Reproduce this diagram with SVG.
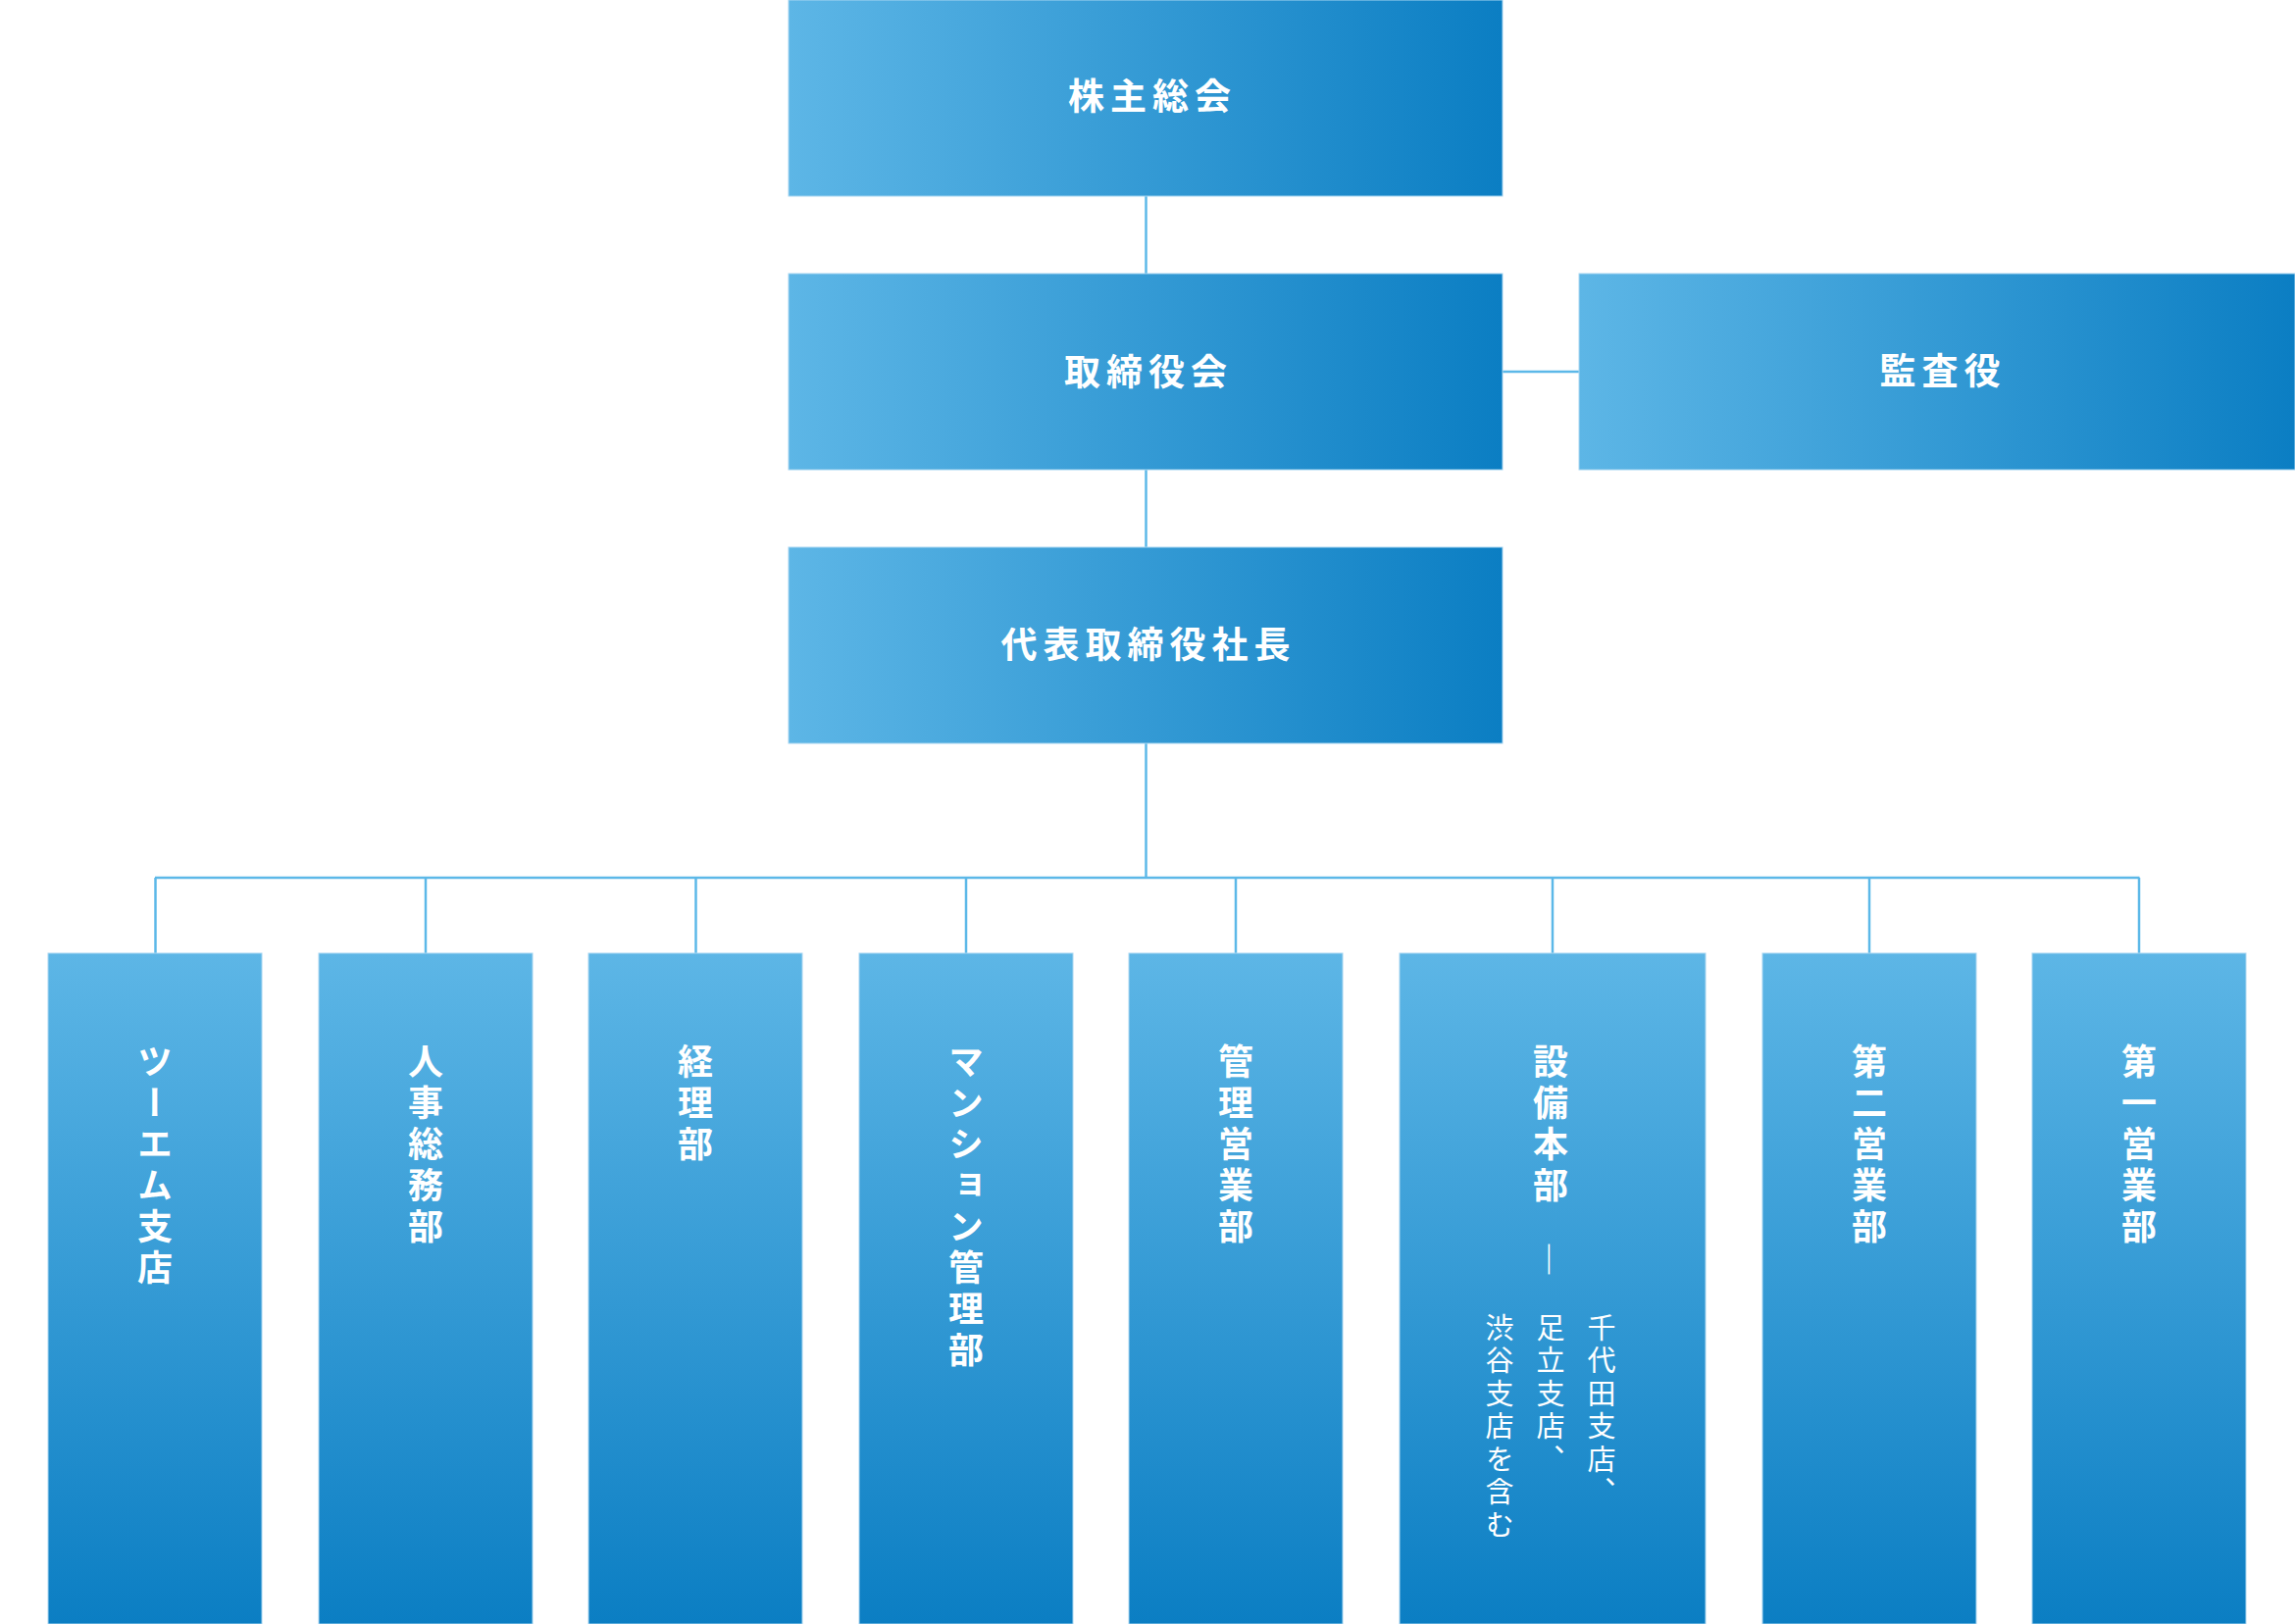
<svg xmlns="http://www.w3.org/2000/svg" width="2340" height="1656" viewBox="0 0 2340 1656">
<defs>
<linearGradient id="gh" x1="0" y1="0" x2="1" y2="0">
<stop offset="0" stop-color="#5db6e6"/>
<stop offset="1" stop-color="#0b7ec3"/>
</linearGradient>
<linearGradient id="gv" x1="0" y1="0" x2="0" y2="1">
<stop offset="0" stop-color="#5db6e6"/>
<stop offset="1" stop-color="#0b7ec3"/>
</linearGradient>
<style>
.bh{fill:url(#gh);stroke:#a8d6f1;stroke-width:1}
.bv{fill:url(#gv);stroke:#a8d6f1;stroke-width:1}
.th{font-family:"Noto Sans CJK JP","Noto Sans CJK SC",sans-serif;font-weight:700;font-size:37px;fill:#fff;letter-spacing:6px;text-anchor:middle;dominant-baseline:central}
.tv{font-family:"Noto Sans CJK JP","Noto Sans CJK SC",sans-serif;font-weight:700;font-size:36px;fill:#fff;letter-spacing:6px;writing-mode:vertical-rl;text-anchor:start}
.ts{font-family:"Noto Sans CJK JP","Noto Sans CJK SC",sans-serif;font-weight:400;font-size:29px;fill:#fff;letter-spacing:4.5px;writing-mode:vertical-rl;text-anchor:start}
.dash{font-family:"Noto Sans CJK JP","Noto Sans CJK SC",sans-serif;font-weight:400;font-size:36px;fill:#fff;writing-mode:vertical-rl;text-anchor:start}
.ln{stroke:#5cb8e8;stroke-width:2.5;fill:none}
</style>
</defs>
<g id="connectors">
<line class="ln" x1="1168.5" y1="200" x2="1168.5" y2="279"/>
<line class="ln" x1="1532" y1="379" x2="1610" y2="379"/>
<line class="ln" x1="1168.5" y1="479" x2="1168.5" y2="558"/>
<line class="ln" x1="1168.5" y1="758" x2="1168.5" y2="895"/>
<line class="ln" x1="158" y1="895" x2="2181.5" y2="895"/>
<line class="ln" x1="158.5" y1="895" x2="158.5" y2="972"/>
<line class="ln" x1="434" y1="895" x2="434" y2="972"/>
<line class="ln" x1="709.5" y1="895" x2="709.5" y2="972"/>
<line class="ln" x1="985" y1="895" x2="985" y2="972"/>
<line class="ln" x1="1260" y1="895" x2="1260" y2="972"/>
<line class="ln" x1="1583" y1="895" x2="1583" y2="972"/>
<line class="ln" x1="1906" y1="895" x2="1906" y2="972"/>
<line class="ln" x1="2181" y1="895" x2="2181" y2="972"/>
</g>
<g id="n-kabunushi"><rect class="bh" x="804" y="0" width="728" height="200"/><text class="th" x="1175" y="96">株主総会</text></g>
<g id="n-torishimariyaku"><rect class="bh" x="804" y="279" width="728" height="200"/><text class="th" x="1171" y="377">取締役会</text></g>
<g id="n-kansayaku"><rect class="bh" x="1610" y="279" width="730" height="200"/><text class="th" x="1981" y="376">監査役</text></g>
<g id="n-shacho"><rect class="bh" x="804" y="558" width="728" height="200"/><text class="th" x="1171" y="655">代表取締役社長</text></g>
<g id="n-twoem"><rect class="bv" x="49" y="972" width="218" height="684"/><text class="tv" x="158" y="1064">ツーエム支店</text></g>
<g id="n-jinji"><rect class="bv" x="325" y="972" width="218" height="684"/><text class="tv" x="434" y="1064">人事総務部</text></g>
<g id="n-keiri"><rect class="bv" x="600" y="972" width="218" height="684"/><text class="tv" x="709" y="1064">経理部</text></g>
<g id="n-mansion"><rect class="bv" x="876" y="972" width="218" height="684"/><text class="tv" x="985" y="1064">マンション管理部</text></g>
<g id="n-kanri"><rect class="bv" x="1151" y="972" width="218" height="684"/><text class="tv" x="1260" y="1064">管理営業部</text></g>
<g id="n-setsubi"><rect class="bv" x="1427" y="972" width="312" height="684"/>
<text class="tv" x="1581" y="1064">設備本部</text>
<text class="dash" x="1581" y="1266">―</text>
<text class="ts" x="1633" y="1339">千代田支店、</text>
<text class="ts" x="1581" y="1339">足立支店、</text>
<text class="ts" x="1529" y="1339">渋谷支店を含む</text>
</g>
<g id="n-daini"><rect class="bv" x="1797" y="972" width="218" height="684"/><text class="tv" x="1906" y="1064">第二営業部</text></g>
<g id="n-daiichi"><rect class="bv" x="2072" y="972" width="218" height="684"/><text class="tv" x="2181" y="1064">第一営業部</text></g>
</svg>
